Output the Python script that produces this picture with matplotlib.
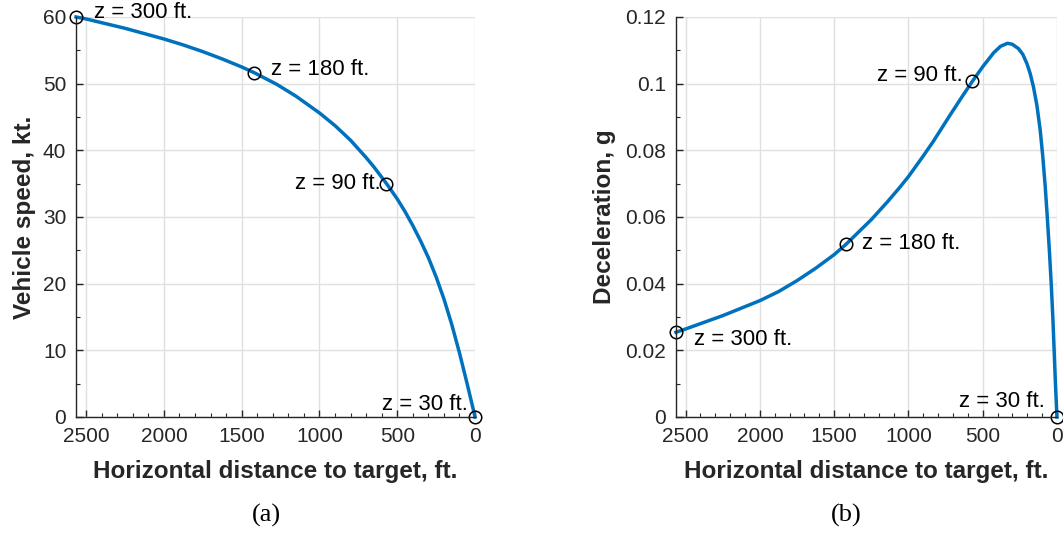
import numpy as np
import matplotlib
matplotlib.use('Agg')
import matplotlib.pyplot as plt
from matplotlib.ticker import MultipleLocator, FormatStrFormatter

plt.rcParams['font.family'] = ['Liberation Sans', 'DejaVu Sans']

# speed profile (a)
x_speed = [2565, 2500, 2250, 2000, 1875, 1750, 1625, 1500, 1416, 1275, 1150, 1000,
           900, 800, 700, 650, 569, 500, 450, 400, 350, 300, 250, 200, 150, 100,
           50, 0]
v_speed = [60.0, 59.7, 58.3, 56.7, 55.8, 54.8, 53.7, 52.5, 51.6, 49.9, 48.1, 45.6,
           43.7, 41.5, 38.9, 37.5, 35.0, 32.7, 30.8, 28.7, 26.4, 23.9, 21.0, 17.7,
           13.9, 9.6, 4.9, 0.0]

# deceleration profile (b)
x_dec = [2565, 2500, 2250, 2000, 1875, 1750, 1625, 1500, 1420, 1250, 1140, 1056,
         1000, 900, 832, 719, 640, 566, 499, 427, 380, 333, 300, 259, 230, 202,
         180, 158, 135, 113, 95, 79, 65, 50, 38, 27, 18, 11, 5, 0]
a_dec = [0.0254, 0.0264, 0.0304, 0.0349, 0.0376, 0.0409, 0.0446, 0.0487, 0.0518,
         0.0592, 0.0646, 0.0690, 0.0721, 0.0783, 0.0827, 0.0906, 0.0960, 0.1009,
         0.1051, 0.1092, 0.1112, 0.1121, 0.1118, 0.1105, 0.1088, 0.1060, 0.1030,
         0.0990, 0.0935, 0.0862, 0.0780, 0.0692, 0.0600, 0.0492, 0.0395, 0.0292,
         0.0190, 0.0110, 0.0050, 0.0]

# altitude markers
z_labels = ['z = 300 ft.', 'z = 180 ft.', 'z = 90 ft.', 'z = 30 ft.']
x_marks = [2565, 1420, 571, 0]
v_marks = [60.0, 51.65, 35.0, 0.0]
a_marks = [0.0254, 0.0520, 0.1008, 0.0]

blue = '#0072BD'
dark = '#262626'

fig = plt.figure(figsize=(10.63, 5.35), dpi=100)
ax1 = fig.add_axes([0.0715, 0.2206, 0.3754, 0.7477])
ax2 = fig.add_axes([0.6359, 0.2206, 0.3584, 0.7477])


def style(ax):
    for s in ['top', 'right']:
        ax.spines[s].set_visible(False)
    for s in ['left', 'bottom']:
        ax.spines[s].set_color(dark)
        ax.spines[s].set_linewidth(1.0)
    ax.grid(True, which='major', color='#e0e0e0', linewidth=1.0)
    ax.set_axisbelow(True)
    ax.tick_params(which='both', direction='in', colors=dark, labelsize=15)
    ax.tick_params(which='major', length=5, width=1.0, pad=7)
    ax.tick_params(which='minor', length=3, width=0.8)
    ax.set_xlim(2565, 0)
    ax.xaxis.set_major_locator(MultipleLocator(500))
    ax.xaxis.set_minor_locator(MultipleLocator(100))
    ax.set_xlabel('Horizontal distance to target, ft.', fontsize=17.5,
                  fontweight='bold', color=dark, labelpad=10)


style(ax1)
ax1.plot(x_speed, v_speed, color=blue, linewidth=2.5, clip_on=False,
         solid_joinstyle='round')
ax1.plot(x_marks, v_marks, 'o', mfc='none', mec='black', ms=9, mew=1.1,
         clip_on=False)
ax1.set_ylim(0, 60)
ax1.yaxis.set_major_locator(MultipleLocator(10))
ax1.yaxis.set_minor_locator(MultipleLocator(5))
ax1.set_ylabel('Vehicle speed, kt.', fontsize=17.5, fontweight='bold',
               color=dark)
ax1.yaxis.set_label_coords(-0.10, 0.5)

offs1 = [(18, 4, 'left'), (17, 3, 'left'), (-5, 0, 'right'), (-7, 12, 'right')]
for lab, x, y, (dx, dy, ha) in zip(z_labels, x_marks, v_marks, offs1):
    ax1.annotate(lab, (x, y), xytext=(dx, dy), textcoords='offset pixels',
                 ha=ha, va='center', fontsize=16, color='black')

style(ax2)
ax2.plot(x_dec, a_dec, color=blue, linewidth=2.5, clip_on=False,
         solid_joinstyle='round')
ax2.plot(x_marks, a_marks, 'o', mfc='none', mec='black', ms=9, mew=1.1,
         clip_on=False)
ax2.set_ylim(0, 0.12)
ax2.yaxis.set_major_locator(MultipleLocator(0.02))
ax2.yaxis.set_minor_locator(MultipleLocator(0.01))
ax2.yaxis.set_major_formatter(FormatStrFormatter('%g'))
ax2.set_ylabel('Deceleration, g', fontsize=17.5, fontweight='bold', color=dark)
ax2.yaxis.set_label_coords(-0.158, 0.5)

offs2 = [(18, -7, 'left'), (16, 0, 'left'), (-9, 5, 'right'), (-12, 15, 'right')]
for lab, x, y, (dx, dy, ha) in zip(z_labels, x_marks, a_marks, offs2):
    ax2.annotate(lab, (x, y), xytext=(dx, dy), textcoords='offset pixels',
                 ha=ha, va='center', fontsize=16, color='black')

fig.text(266 / 1063, 1 - 515 / 535, '(a)', ha='center', va='center',
         fontsize=19, family='Liberation Serif')
fig.text(846 / 1063, 1 - 515 / 535, '(b)', ha='center', va='center',
         fontsize=19, family='Liberation Serif')

fig.savefig('out.png', dpi=100)
